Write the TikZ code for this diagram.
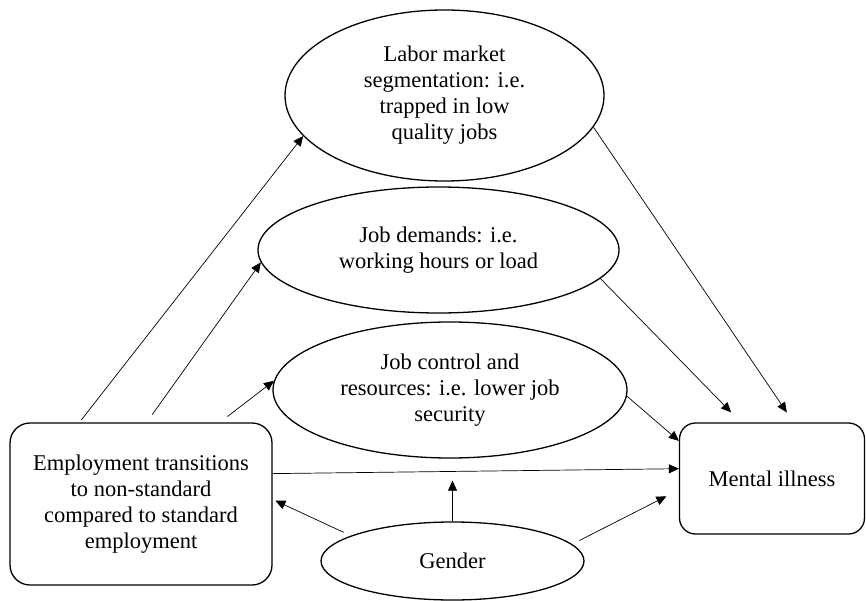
\documentclass[tikz,border=0pt]{standalone}
\usepackage{fontspec}
\setmainfont{Liberation Serif}
\usetikzlibrary{shapes.geometric,arrows.meta}

\begin{document}
\begin{tikzpicture}[x=1pt,y=-1pt,
  oval/.style={ellipse,draw,line width=1.3pt,inner sep=0pt,align=center},
  box/.style={rectangle,draw,line width=1.3pt,inner sep=0pt,align=center},
  link/.style={-{Triangle[length=10pt,width=9pt]},line width=0.7pt},
  font=\fontsize{22.5}{26}\selectfont]
\useasboundingbox (0,0) rectangle (866,601);

\node[oval,minimum width=319pt,minimum height=171pt] (labor) at (444.5,95.5) {Labor market\\segmentation: i.e.\\trapped in low\\quality jobs};
\node[oval,minimum width=361pt,minimum height=126pt] (dem) at (438.5,250) {Job demands: i.e.\\working hours or load};
\node[oval,minimum width=354pt,minimum height=136pt] (ctl) at (450,390) {Job control and\\resources: i.e. lower job\\security};
\node[oval,minimum width=263pt,minimum height=78pt] (gender) at (452.5,561) {Gender};
\node[box,rounded corners=20pt,minimum width=262pt,minimum height=162pt] (emp) at (141,504) {Employment transitions\\to non-standard\\compared to standard\\employment};
\node[box,rounded corners=16pt,minimum width=185pt,minimum height=111pt] (mental) at (772,478.5) {Mental illness};

\draw[link,shorten <=3pt] (emp.127) -- (labor.196);
\draw[link,shorten <=9.5pt] (emp.86) -- (dem.184);
\draw[link,shorten <=9.5pt] (emp.46) -- (ctl.177);
\draw[link] (emp.13) -- (mental.174);
\draw[link,shorten <=8pt,shorten >=3pt] (gender.166) -- (emp.2);
\draw[link,shorten >=22pt] (gender.north) -- (gender.north |- ctl.south);
\draw[link,shorten <=8pt,shorten >=14pt] (gender.8) -- (mental.187);
\draw[link] (ctl.358) -- (mental.158);
\draw[link,shorten >=14pt] (dem.350) -- (mental.119);
\draw[link,shorten >=12pt] (labor.348) -- (mental.69);
\end{tikzpicture}
\end{document}
